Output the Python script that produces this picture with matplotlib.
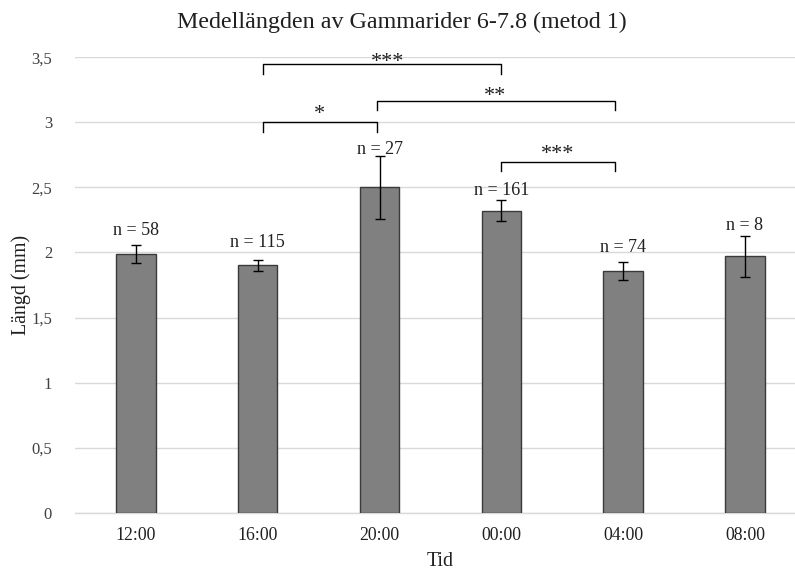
import matplotlib
matplotlib.use("Agg")
import matplotlib.pyplot as plt

# ---- data ----
categories = ["12:00", "16:00", "20:00", "00:00", "04:00", "08:00"]
means = [1.99, 1.90, 2.50, 2.32, 1.86, 1.97]
errors = [0.068, 0.04, 0.245, 0.08, 0.068, 0.16]
n_labels = ["n = 58", "n = 115", "n = 27", "n = 161", "n = 74", "n = 8"]
yticks = [0, 0.5, 1, 1.5, 2, 2.5, 3, 3.5]
ytick_labels = ["0", "0,5", "1", "1,5", "2", "2,5", "3", "3,5"]
# significance: (left bar, right bar, stars)
sig_pairs = [(1, 3, "***"), (2, 4, "**"), (1, 2, "*"), (3, 4, "***")]

# ---- layout ----
n_label_y = [2.17, 2.073, 2.794, 2.479, 2.036, 2.21]
bracket_x = {1: 1.047, 2: 1.98, 3: 3.0, 4: 3.93}
bracket_y = [3.447, 3.164, 3.001, 2.698]
bracket_drop = 0.072
star_pos = [(2.07, 3.46), (2.95, 3.20), (1.506, 3.06), (3.46, 2.75)]

plt.rcParams['font.family'] = ['Liberation Serif', 'DejaVu Serif']

fig = plt.figure(figsize=(7.95, 5.74), dpi=100)
ax = fig.add_axes([75 / 795, (574 - 512.7) / 574, (795 - 75) / 795, (512.7 - 57.3) / 574])

x = list(range(len(categories)))
ax.bar(x, means, width=0.324, color="#808080", edgecolor="#3a3a3a", linewidth=1.0, zorder=3)
ax.errorbar(x, means, yerr=errors, fmt="none", ecolor="black", elinewidth=1.0,
            capsize=3.3, capthick=1.0, zorder=4)

for xi, lab, ly in zip(x, n_labels, n_label_y):
    ax.text(xi, ly, lab, ha="center", va="center", fontsize=13, color="#202020")

for (a, b, stars), by, (sx, sy) in zip(sig_pairs, bracket_y, star_pos):
    xa, xb = bracket_x[a], bracket_x[b]
    ax.plot([xa, xa, xb, xb], [by - bracket_drop, by, by, by - bracket_drop],
            color="black", linewidth=1.0, zorder=5, clip_on=False)
    ax.text(sx, sy, stars, ha="center", va="center", fontsize=16, color="#202020")

ax.set_xlim(-0.5, 5.5 - (805.9 - 795) / 121.9)
ax.set_ylim(0, 3.5)
ax.set_yticks(yticks)
ax.set_yticklabels(ytick_labels, fontsize=12, color="#404040")
ax.set_xticks(x)
ax.set_xticklabels(categories, fontsize=12.8, color="#202020")
ax.tick_params(axis="both", length=0)
ax.tick_params(axis="y", pad=16.5)
ax.tick_params(axis="x", pad=10)
ax.grid(axis="y", color="#d9d9d9", linewidth=1.0, zorder=0)
ax.set_axisbelow(True)
for s in ["top", "right", "left"]:
    ax.spines[s].set_visible(False)
ax.spines["bottom"].set_color("#d9d9d9")
ax.spines["bottom"].set_linewidth(1.0)

fig.text(401.5 / 795, 1 - 22 / 574, "Medellängden av Gammarider 6-7.8 (metod 1)",
         ha="center", va="center", fontsize=17.3, color="#202020")
fig.text(21 / 795, 1 - 285 / 574, "Längd (mm)", rotation=90, ha="center", va="center",
         fontsize=14.3, color="#202020")
fig.text(440 / 795, 1 - 561 / 574, "Tid", ha="center", va="center",
         fontsize=14.3, color="#202020")

fig.savefig("out.png", dpi=100)
